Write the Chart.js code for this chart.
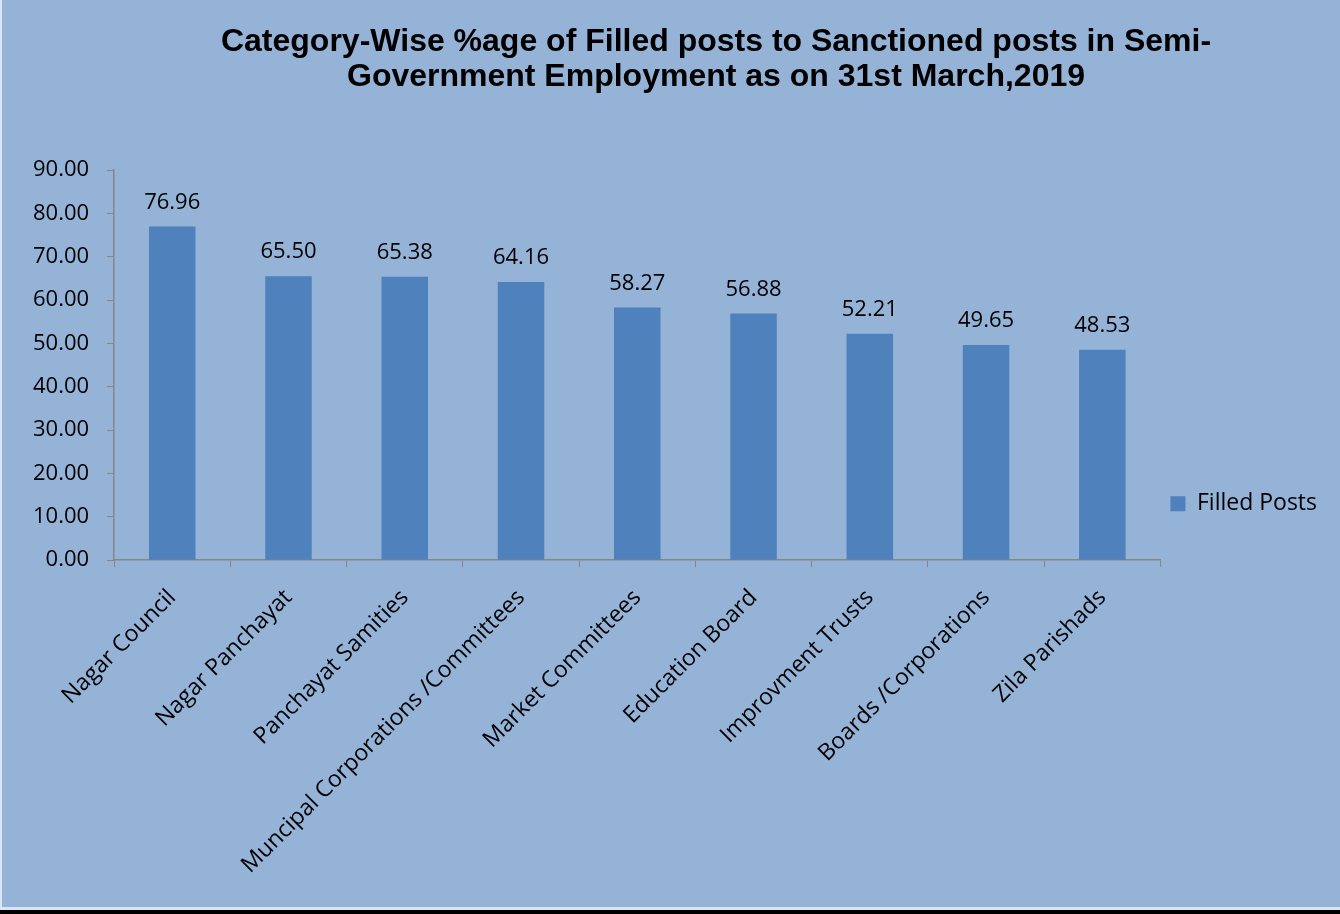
<!DOCTYPE html>
<html>
<head>
<meta charset="utf-8">
<script src="https://cdn.jsdelivr.net/npm/chart.js@4"></script>
<style>
  html, body { margin: 0; padding: 0; background: #dce6f2; }
  #wrap { position: absolute; left: 2px; top: 0; width: 1338px; height: 907px; background: #95b3d7; }
  #bar { position: absolute; left: 0; top: 910px; width: 1340px; height: 4px; background: #000; }
</style>
</head>
<body>
<div id="wrap"><canvas id="myChart"></canvas></div>
<div id="bar"></div>
<script>
const categorias = [
    "Nagar Council", "Nagar Panchayat", "Panchayat Samities",
    "Muncipal Corporations /Committees", "Market Committees", "Education Board",
    "Improvment Trusts", "Boards /Corporations", "Zila Parishads"];
const filledPosts = [76.96, 65.50, 65.38, 64.16, 58.27, 56.88, 52.21, 49.65, 48.53];
const tituloLinhas = [
    "Category-Wise %age of Filled posts to Sanctioned posts in Semi-",
    "Government Employment as on 31st March,2019"];

const fonteTexto = "'Open Sans', Lato, sans-serif";

// titulo desenhado a mao pra poder deslocar o centro
const tituloPlugin = {
    id: 'tituloPlugin',
    afterDraw(chart) {
        const ctx = chart.ctx;
        ctx.save();
        ctx.font = "bold 32px 'Liberation Sans', Arial, sans-serif";
        ctx.fillStyle = '#000';
        ctx.textAlign = 'center';
        ctx.textBaseline = 'alphabetic';
        ctx.fillText(tituloLinhas[0], 714, 51);
        ctx.fillText(tituloLinhas[1], 714, 86);
        ctx.restore();
    }
};

// valores em cima das barras
const rotulosPlugin = {
    id: 'rotulosPlugin',
    afterDatasetsDraw(chart) {
        const ctx = chart.ctx;
        const meta = chart.getDatasetMeta(0);
        ctx.save();
        ctx.font = "22px " + fonteTexto;
        ctx.fillStyle = '#000';
        ctx.textAlign = 'center';
        ctx.textBaseline = 'alphabetic';
        meta.data.forEach(function(bar, i) {
            ctx.fillText(filledPosts[i].toFixed(2), bar.x, bar.y - 18);
        });
        ctx.restore();
    }
};

document.addEventListener('DOMContentLoaded', function() {
    const canvas = document.getElementById('myChart');
    canvas.width = 1338;
    canvas.height = 907;
    const ctx = canvas.getContext('2d');
    new Chart(ctx, {
        type: 'bar',
        data: {
            labels: categorias,
            datasets: [{
                label: 'Filled Posts',
                data: filledPosts,
                backgroundColor: '#4f81bd',
                borderWidth: 0,
                categoryPercentage: 1,
                barPercentage: 0.4
            }]
        },
        options: {
            responsive: false,
            animation: false,
            layout: { padding: { top: 170, left: 13, bottom: 11, right: 13 } },
            plugins: {
                legend: {
                    position: 'right',
                    align: 'start',
                    // titulo vazio so pra empurrar a legenda pra baixo
                    title: { display: true, text: ' ', font: { size: 1 }, padding: { top: 311, bottom: 0 } },
                    labels: {
                        boxWidth: 15, boxHeight: 15,
                        color: '#000',
                        font: { size: 23, family: fonteTexto }
                    }
                },
                tooltip: { enabled: false }
            },
            scales: {
                y: {
                    min: 0, max: 90,
                    ticks: {
                        stepSize: 10,
                        color: '#000',
                        padding: 18,
                        font: { size: 22, family: fonteTexto },
                        callback: function(v) { return v.toFixed(2); }
                    },
                    grid: { drawOnChartArea: false, tickLength: 7, color: '#868686', tickColor: '#868686' },
                    border: { color: '#868686', width: 1.5 }
                },
                x: {
                    ticks: {
                        color: '#000',
                        maxRotation: 45, minRotation: 45,
                        padding: 17,
                        font: { size: 23, family: fonteTexto }
                    },
                    grid: { offset: true, drawOnChartArea: false, tickLength: 7, color: '#868686', tickColor: '#868686' },
                    border: { color: '#868686', width: 1.5 }
                }
            }
        },
        plugins: [tituloPlugin, rotulosPlugin]
    });
});
</script>
</body>
</html>
